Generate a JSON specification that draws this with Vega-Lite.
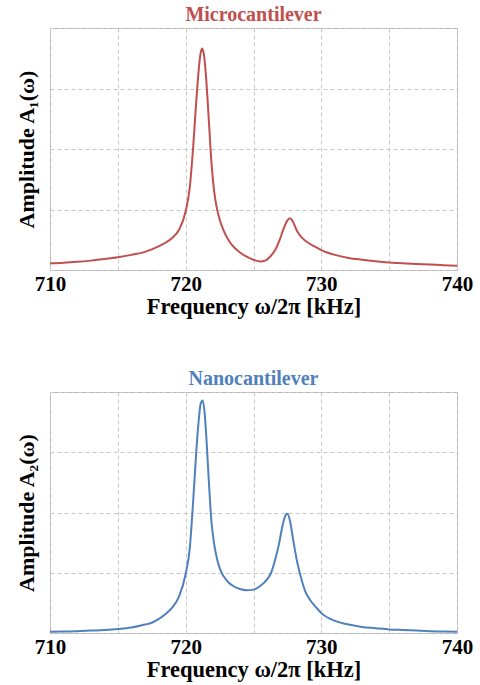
{
  "$schema": "https://vega.github.io/schema/vega-lite/v6.json",
  "background": "white",
  "padding": {"left": 14, "top": 4, "right": 4, "bottom": 2},
  "config": {
    "font": "Liberation Serif",
    "view": {"stroke": "#b3b3b3", "strokeWidth": 1},
    "axis": {
      "grid": true, "gridDash": [4, 3], "gridColor": "#c8c8c8", "gridWidth": 1,
      "domain": false, "ticks": false,
      "labelFont": "Liberation Serif", "labelFontWeight": "bold", "labelFontSize": 21, "labelColor": "black",
      "titleFont": "Liberation Serif", "titleFontWeight": "bold", "titleFontSize": 22.5, "titleColor": "black"
    },
    "title": {"font": "Liberation Serif", "fontWeight": "bold", "fontSize": 20, "baseline": "alphabetic", "offset": 3},
    "concat": {"spacing": 50}
  },
  "datasets": {
    "micro": [
      {"f": 710, "a": 0.11}, {"f": 711, "a": 0.12}, {"f": 712, "a": 0.135}, {"f": 713, "a": 0.155},
      {"f": 714, "a": 0.18}, {"f": 715, "a": 0.21}, {"f": 716, "a": 0.25}, {"f": 717, "a": 0.3},
      {"f": 717.5, "a": 0.34}, {"f": 718, "a": 0.39}, {"f": 718.5, "a": 0.45}, {"f": 719, "a": 0.53},
      {"f": 719.5, "a": 0.66}, {"f": 720, "a": 0.97}, {"f": 720.3, "a": 1.36}, {"f": 720.55, "a": 2.02},
      {"f": 720.8, "a": 2.85}, {"f": 721.0, "a": 3.4}, {"f": 721.1, "a": 3.58}, {"f": 721.22, "a": 3.66},
      {"f": 721.35, "a": 3.55}, {"f": 721.5, "a": 3.2}, {"f": 721.7, "a": 2.5}, {"f": 721.9, "a": 1.78},
      {"f": 722.1, "a": 1.3}, {"f": 722.3, "a": 1.02}, {"f": 722.5, "a": 0.84}, {"f": 722.8, "a": 0.65},
      {"f": 723.2, "a": 0.48}, {"f": 723.5, "a": 0.39}, {"f": 724, "a": 0.29}, {"f": 724.5, "a": 0.22},
      {"f": 725, "a": 0.17}, {"f": 725.5, "a": 0.14}, {"f": 725.9, "a": 0.16}, {"f": 726.3, "a": 0.24},
      {"f": 726.6, "a": 0.33}, {"f": 726.9, "a": 0.48}, {"f": 727.2, "a": 0.67}, {"f": 727.5, "a": 0.82},
      {"f": 727.7, "a": 0.855}, {"f": 727.9, "a": 0.8}, {"f": 728.2, "a": 0.65}, {"f": 728.5, "a": 0.55},
      {"f": 728.9, "a": 0.47}, {"f": 729.5, "a": 0.39}, {"f": 730, "a": 0.33}, {"f": 731, "a": 0.25},
      {"f": 732, "a": 0.2}, {"f": 733, "a": 0.17}, {"f": 734, "a": 0.145}, {"f": 735, "a": 0.125},
      {"f": 736, "a": 0.11}, {"f": 737, "a": 0.1}, {"f": 738, "a": 0.09}, {"f": 739, "a": 0.08},
      {"f": 740, "a": 0.07}
    ],
    "nano": [
      {"f": 710, "a": 0.02}, {"f": 711, "a": 0.025}, {"f": 712, "a": 0.03}, {"f": 713, "a": 0.04},
      {"f": 714, "a": 0.05}, {"f": 715, "a": 0.065}, {"f": 716, "a": 0.09}, {"f": 717, "a": 0.14},
      {"f": 717.5, "a": 0.17}, {"f": 718, "a": 0.23}, {"f": 718.5, "a": 0.31}, {"f": 719, "a": 0.42},
      {"f": 719.5, "a": 0.6}, {"f": 720, "a": 0.98}, {"f": 720.3, "a": 1.4}, {"f": 720.55, "a": 2.18},
      {"f": 720.8, "a": 3.07}, {"f": 721.0, "a": 3.62}, {"f": 721.1, "a": 3.8}, {"f": 721.25, "a": 3.86},
      {"f": 721.4, "a": 3.65}, {"f": 721.55, "a": 3.15}, {"f": 721.7, "a": 2.55}, {"f": 721.9, "a": 1.85},
      {"f": 722.1, "a": 1.48}, {"f": 722.3, "a": 1.24}, {"f": 722.5, "a": 1.08}, {"f": 722.8, "a": 0.94},
      {"f": 723.2, "a": 0.83}, {"f": 723.5, "a": 0.78}, {"f": 724, "a": 0.73}, {"f": 724.5, "a": 0.71},
      {"f": 725, "a": 0.72}, {"f": 725.5, "a": 0.78}, {"f": 726, "a": 0.89}, {"f": 726.3, "a": 1.0},
      {"f": 726.6, "a": 1.22}, {"f": 726.9, "a": 1.5}, {"f": 727.1, "a": 1.74}, {"f": 727.3, "a": 1.92},
      {"f": 727.5, "a": 1.98}, {"f": 727.7, "a": 1.85}, {"f": 727.9, "a": 1.58}, {"f": 728.2, "a": 1.2},
      {"f": 728.5, "a": 0.92}, {"f": 728.8, "a": 0.7}, {"f": 729.2, "a": 0.54}, {"f": 729.6, "a": 0.43},
      {"f": 730, "a": 0.33}, {"f": 731, "a": 0.2}, {"f": 732, "a": 0.14}, {"f": 733, "a": 0.1},
      {"f": 734, "a": 0.08}, {"f": 735, "a": 0.06}, {"f": 736, "a": 0.05}, {"f": 737, "a": 0.04},
      {"f": 738, "a": 0.03}, {"f": 739, "a": 0.025}, {"f": 740, "a": 0.02}
    ]
  },
  "vconcat": [
    {
      "data": {"name": "micro"},
      "title": {"text": "Microcantilever", "color": "#c0504d"},
      "width": 407, "height": 242,
      "mark": {"type": "line", "color": "#c0504d", "strokeWidth": 2, "interpolate": "monotone"},
      "encoding": {
        "x": {"field": "f", "type": "quantitative", "scale": {"domain": [710, 740], "nice": false},
          "axis": {"values": [710, 715, 720, 725, 730, 735, 740], "labelExpr": "datum.value % 10 == 0 ? datum.label : ''",
            "labelFlush": false, "labelOverlap": false, "labelPadding": 3, "title": "Frequency ω/2π [kHz]", "titlePadding": 1}},
        "y": {"field": "a", "type": "quantitative", "scale": {"domain": [0, 4], "nice": false},
          "axis": {"values": [0, 1, 2, 3, 4], "labels": false, "title": "Amplitude A₁(ω)", "titleFontSize": 22, "titlePadding": 12}}
      }
    },
    {
      "data": {"name": "nano"},
      "title": {"text": "Nanocantilever", "color": "#4f81bd"},
      "width": 407, "height": 241,
      "mark": {"type": "line", "color": "#4f81bd", "strokeWidth": 2, "interpolate": "monotone"},
      "encoding": {
        "x": {"field": "f", "type": "quantitative", "scale": {"domain": [710, 740], "nice": false},
          "axis": {"values": [710, 715, 720, 725, 730, 735, 740], "labelExpr": "datum.value % 10 == 0 ? datum.label : ''",
            "labelFlush": false, "labelOverlap": false, "labelPadding": 3, "title": "Frequency ω/2π [kHz]", "titlePadding": 1}},
        "y": {"field": "a", "type": "quantitative", "scale": {"domain": [0, 4], "nice": false},
          "axis": {"values": [0, 1, 2, 3, 4], "labels": false, "title": "Amplitude A₂(ω)", "titleFontSize": 22, "titlePadding": 12}}
      }
    }
  ]
}
